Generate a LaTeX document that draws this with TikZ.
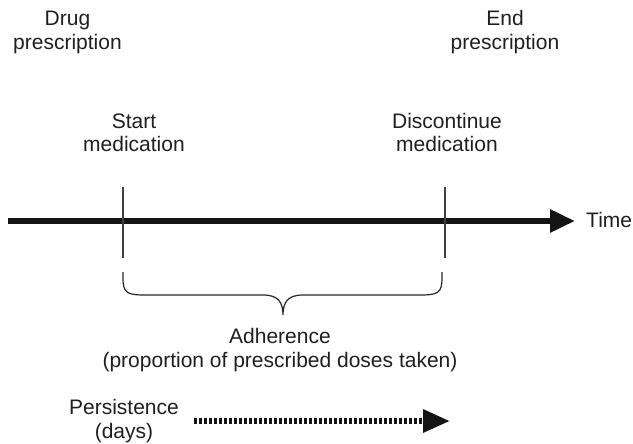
\documentclass[tikz,border=0pt]{standalone}
\usepackage{fontspec}
\setmainfont{Liberation Sans}
\usetikzlibrary{arrows.meta}
\begin{document}
\begin{tikzpicture}[x=1pt,y=-1pt,
  lbl/.style={font=\fontsize{21}{24}\selectfont, inner sep=0pt, align=center, text=black!88},
  axisline/.style={line width=6pt, draw=black!92, -{Triangle[length=25pt,width=22pt]}},
  tickline/.style={line width=1.3pt, draw=black!75},
  bracepath/.style={line width=1.2pt, draw=black!85},
  persline/.style={line width=6pt, draw=black!92, dash pattern=on 3pt off 2pt, -{Triangle[length=27pt,width=22pt]}}]
\useasboundingbox (0,0) rectangle (633,444);
% labels (anchor = baseline of last line)
\node[lbl, anchor=base] (drug) at (67.5,50) {Drug\\prescription};
\node[lbl, anchor=base] (endp) at (505,50) {End\\prescription};
\node[lbl, anchor=base] (start) at (134,152) {Start\\medication};
\node[lbl, anchor=base] (disc) at (447,152) {Discontinue\\medication};
\node[lbl, anchor=base] (adh) at (280,367) {Adherence\\(proportion of prescribed doses taken)};
\node[lbl, anchor=base] (pers) at (124,438) {Persistence\\(days)};
% time axis
\coordinate (a0) at (8,221);
\coordinate (a1) at (575,221);
\draw[axisline] (a0) -- (a1);
\node[lbl, anchor=base west] (time) at (586,227) {Time};
% ticks
\coordinate (t1top) at (123,187);
\coordinate (t1bot) at (123,258);
\coordinate (t2top) at (445,187);
\coordinate (t2bot) at (445,258);
\draw[tickline] (t1top) -- (t1bot);
\draw[tickline] (t2top) -- (t2bot);
% brace
\coordinate (bl) at (123,272);
\coordinate (br) at (442,272);
\coordinate (bm) at (283,315);
\draw[bracepath] (bl) -- (123,278) .. controls (123,293) and (127,295) .. (145,295)
  -- (263,295) .. controls (278,295) and (283,302) .. (bm)
  .. controls (283,302) and (288,295) .. (303,295)
  -- (420,295) .. controls (438,295) and (442,293) .. (442,278) -- (br);
% persistence arrow
\coordinate (p0) at (194,421);
\coordinate (p1) at (450,421);
\draw[persline] (p0) -- (p1);
\end{tikzpicture}
\end{document}
